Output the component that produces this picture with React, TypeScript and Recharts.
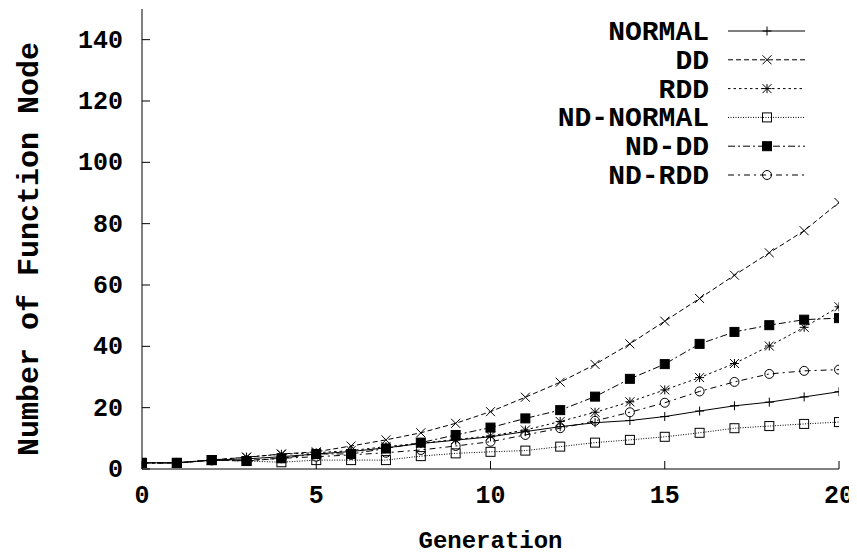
import React from "react";
import { LineChart, Line, XAxis, YAxis } from "recharts";

// Generation index 0..20
const generations = [0, 1, 2, 3, 4, 5, 6, 7, 8, 9, 10, 11, 12, 13, 14, 15, 16, 17, 18, 19, 20];

// Average number of function nodes per generation for each method
const normal = [2.0, 2.0, 2.9, 3.3, 4.0, 4.9, 5.7, 6.9, 8.3, 9.4, 10.5, 12.2, 13.8, 15.1, 15.8, 17.1, 18.9, 20.6, 21.8, 23.5, 25.2];
const dd = [2.0, 2.0, 3.0, 3.8, 4.9, 5.6, 7.5, 9.5, 11.8, 14.9, 18.7, 23.4, 28.3, 34.1, 40.8, 48.2, 55.6, 63.2, 70.5, 77.7, 86.9];
const rdd = [2.0, 2.0, 2.9, 3.9, 4.8, 5.3, 6.0, 7.3, 8.4, 9.6, 10.8, 12.7, 15.5, 18.5, 21.9, 25.8, 29.8, 34.4, 40.1, 46.2, 52.9];
const ndNormal = [2.0, 2.0, 2.9, 2.6, 2.2, 2.9, 2.9, 2.9, 4.2, 5.1, 5.6, 6.0, 7.3, 8.6, 9.5, 10.5, 11.8, 13.3, 14.0, 14.7, 15.3];
const ndDd = [2.0, 2.0, 2.9, 2.6, 3.5, 4.9, 4.9, 6.7, 8.6, 11.1, 13.5, 16.5, 19.2, 23.6, 29.4, 34.2, 40.8, 44.7, 46.9, 48.7, 49.2];
const ndRdd = [2.0, 2.0, 2.8, 2.8, 3.5, 4.0, 4.6, 5.3, 6.2, 7.5, 8.9, 11.1, 13.3, 15.7, 18.5, 21.6, 25.3, 28.4, 31.0, 32.0, 32.4];

const xTicks = [0, 5, 10, 15, 20];
const yTicks = [0, 20, 40, 60, 80, 100, 120, 140];

const FONT = "'Liberation Mono', 'DejaVu Sans Mono', monospace";
const TICK_SIZE = 25;
const XTITLE_SIZE = 24;
const YTITLE_SIZE = 30;
const KEY_SIZE = 28;
const INK = "#000";

type MarkerKind = "plus" | "cross" | "star" | "square" | "filledSquare" | "circle";

const seriesDefs: { key: string; values: number[]; marker: MarkerKind; dash?: string }[] = [
  { key: "NORMAL", values: normal, marker: "plus" },
  { key: "DD", values: dd, marker: "cross", dash: "5 3" },
  { key: "RDD", values: rdd, marker: "star", dash: "2.5 3" },
  { key: "ND-NORMAL", values: ndNormal, marker: "square", dash: "1 1.5" },
  { key: "ND-DD", values: ndDd, marker: "filledSquare", dash: "7 3 2 3" },
  { key: "ND-RDD", values: ndRdd, marker: "circle", dash: "6 4 2 4" },
];

const rows = generations.map((g, i) => {
  const row: Record<string, number> = { gen: g };
  seriesDefs.forEach((s) => {
    row[s.key] = s.values[i];
  });
  return row;
});

function Marker({ kind, cx, cy }: { kind: MarkerKind; cx: number; cy: number }) {
  const r = 4.5;
  const common = { stroke: INK, strokeWidth: 1, fill: "none" };
  switch (kind) {
    case "plus":
      return (
        <g {...common}>
          <line x1={cx - r} x2={cx + r} y1={cy} y2={cy} />
          <line x1={cx} x2={cx} y1={cy - r} y2={cy + r} />
        </g>
      );
    case "cross":
      return (
        <g {...common}>
          <line x1={cx - r} x2={cx + r} y1={cy - r} y2={cy + r} />
          <line x1={cx - r} x2={cx + r} y1={cy + r} y2={cy - r} />
        </g>
      );
    case "star":
      return (
        <g {...common}>
          <line x1={cx - r} x2={cx + r} y1={cy - r} y2={cy + r} />
          <line x1={cx - r} x2={cx + r} y1={cy + r} y2={cy - r} />
          <line x1={cx - r} x2={cx + r} y1={cy} y2={cy} />
          <line x1={cx} x2={cx} y1={cy - r} y2={cy + r} />
        </g>
      );
    case "square":
      return <rect x={cx - r} y={cy - r} width={2 * r} height={2 * r} {...common} />;
    case "filledSquare":
      return <rect x={cx - r} y={cy - r} width={2 * r} height={2 * r} fill={INK} stroke={INK} strokeWidth={1} />;
    case "circle":
      return <circle cx={cx} cy={cy} r={r} {...common} />;
  }
}

function BottomTick(props: any) {
  const { x, y, payload } = props;
  return (
    <g>
      <line x1={x} x2={x} y1={y} y2={y - 8} stroke={INK} strokeWidth={1} />
      <text x={x} y={y + 34} textAnchor="middle" fontFamily={FONT} fontWeight="bold" fontSize={TICK_SIZE} fill={INK}>
        {payload.value}
      </text>
    </g>
  );
}

function TopTick(props: any) {
  const { x, y } = props;
  return <line x1={x} x2={x} y1={y} y2={y + 8} stroke={INK} strokeWidth={1} />;
}

function LeftTick(props: any) {
  const { x, y, payload } = props;
  return (
    <g>
      <line x1={x} x2={x + 8} y1={y} y2={y} stroke={INK} strokeWidth={1} />
      <text x={x - 19} y={y + 8} textAnchor="end" fontFamily={FONT} fontWeight="bold" fontSize={TICK_SIZE} fill={INK}>
        {payload.value}
      </text>
    </g>
  );
}

function RightTick(props: any) {
  const { x, y } = props;
  return <line x1={x} x2={x - 8} y1={y} y2={y} stroke={INK} strokeWidth={1} />;
}

// Key box in the upper right corner of the plot
function KeyBox() {
  const textRight = 701;
  const sampleX1 = 720;
  const sampleX2 = 797;
  const markX = 759;
  const top = 23;
  const step = 28.8;
  return (
    <svg width={849} height={200} style={{ position: "absolute", left: 0, top: 0, pointerEvents: "none" }}>
      {seriesDefs.map((s, i) => {
        const y = top + i * step;
        return (
          <g key={s.key}>
            <text x={textRight} y={y + 9} textAnchor="end" fontFamily={FONT} fontWeight="bold" fontSize={KEY_SIZE} fill={INK}>
              {s.key}
            </text>
            <line x1={sampleX1} x2={sampleX2} y1={y} y2={y} stroke={INK} strokeWidth={1} strokeDasharray={s.dash} />
            <Marker kind={s.marker} cx={markX} cy={y} />
          </g>
        );
      })}
    </svg>
  );
}

function YTitle(props: any) {
  const { viewBox } = props;
  const cx = viewBox.x + 22;
  const cy = viewBox.y + viewBox.height / 2 + 10;
  return (
    <text
      x={cx}
      y={cy}
      transform={`rotate(-90 ${cx} ${cy})`}
      textAnchor="middle"
      dominantBaseline="central"
      fontFamily={FONT}
      fontWeight="bold"
      fontSize={YTITLE_SIZE}
      fill={INK}
    >
      Number of Function Node
    </text>
  );
}

function XTitle(props: any) {
  const { viewBox } = props;
  const cx = viewBox.x + viewBox.width / 2;
  return (
    <text x={cx} y={viewBox.y + 79} textAnchor="middle" fontFamily={FONT} fontWeight="bold" fontSize={XTITLE_SIZE} fill={INK}>
      Generation
    </text>
  );
}

export default function App() {
  return (
    <div style={{ position: "relative", width: 849, height: 549, background: "#fff" }}>
      <LineChart width={849} height={549} data={rows} margin={{ top: 1, right: 18, bottom: 0, left: 0 }}>
        <XAxis
          xAxisId="bottom"
          dataKey="gen"
          type="number"
          domain={[0, 20]}
          ticks={xTicks}
          orientation="bottom"
          height={88}
          tickSize={0}
          tickMargin={0}
          tick={<BottomTick />}
          axisLine={{ stroke: INK, strokeWidth: 1 }}
          tickLine={false}
          label={<XTitle />}
          allowDataOverflow
        />
        <XAxis
          xAxisId="top"
          dataKey="gen"
          type="number"
          domain={[0, 20]}
          ticks={xTicks}
          orientation="top"
          height={0}
          tickSize={0}
          tickMargin={0}
          tick={<TopTick />}
          axisLine={{ stroke: INK, strokeWidth: 1 }}
          tickLine={false}
          allowDataOverflow
        />
        <YAxis
          yAxisId="left"
          type="number"
          domain={[0, 150]}
          ticks={yTicks}
          orientation="left"
          width={134}
          tickSize={0}
          tickMargin={0}
          tick={<LeftTick />}
          axisLine={{ stroke: INK, strokeWidth: 1 }}
          tickLine={false}
          label={<YTitle />}
          allowDataOverflow
        />
        <YAxis
          yAxisId="right"
          type="number"
          domain={[0, 150]}
          ticks={yTicks}
          orientation="right"
          width={0}
          tickSize={0}
          tickMargin={0}
          tick={<RightTick />}
          axisLine={{ stroke: INK, strokeWidth: 1 }}
          tickLine={false}
          allowDataOverflow
        />
        {seriesDefs.map((s) => (
          <Line
            key={s.key}
            xAxisId="bottom"
            yAxisId="left"
            type="linear"
            dataKey={s.key}
            stroke={INK}
            strokeWidth={1}
            strokeDasharray={s.dash}
            isAnimationActive={false}
            dot={(p: any) => <Marker key={`${s.key}-${p.index}`} kind={s.marker} cx={p.cx} cy={p.cy} />}
            activeDot={false}
          />
        ))}
      </LineChart>
      <KeyBox />
    </div>
  );
}
